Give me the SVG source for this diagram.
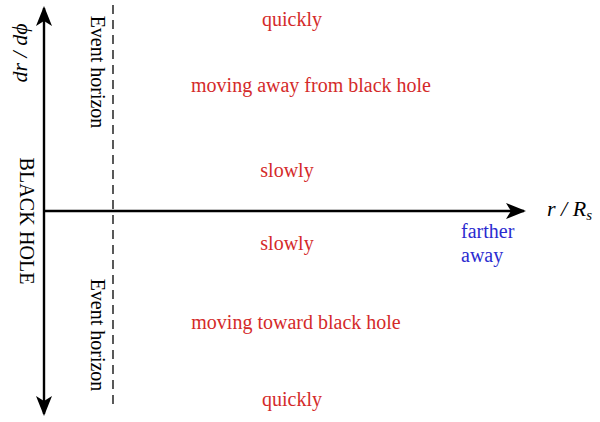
<svg xmlns="http://www.w3.org/2000/svg" width="600" height="422" viewBox="0 0 600 422">
<style>
.ax{stroke:#000;stroke-width:2.4;fill:none}
.eh{stroke:#000;stroke-width:1.3;stroke-dasharray:9 6;fill:none}
.t{font-family:"Liberation Serif","DejaVu Serif",serif;font-size:20px}
.r{fill:#d42a2a;text-anchor:middle}
.b{fill:#2b2bd0}
.k{fill:#000}
.m{font-style:italic;font-size:22px}
</style>
<defs>
<marker id="ah" viewBox="0 0 20 16" refX="18" refY="8" markerWidth="20" markerHeight="16" markerUnits="userSpaceOnUse" orient="auto">
<path d="M0,0 L20,8 L0,16 L5,8 Z" fill="#000"/>
</marker>
</defs>
<rect width="600" height="422" fill="#fff"/>
<g id="connectors">
<line class="ax" x1="44" y1="211" x2="44" y2="8" marker-end="url(#ah)"/>
<line class="ax" x1="44" y1="211" x2="44" y2="414" marker-end="url(#ah)"/>
<line class="ax" x1="43" y1="211" x2="524" y2="211" marker-end="url(#ah)"/>
<line class="eh" x1="113" y1="5" x2="113" y2="408"/>
</g>
<g id="axis-labels">
<text class="t k m" transform="translate(27,53) rotate(-90)" text-anchor="middle">dr / dϕ</text>
<text class="t k m" x="547" y="216">r / R<tspan font-size="15" dy="4">s</tspan></text>
</g>
<g id="black-hole">
<text class="t k" transform="translate(20,221) rotate(90)" text-anchor="middle" textLength="127">BLACK HOLE</text>
</g>
<g id="event-horizon-top">
<text class="t k" transform="translate(91,72) rotate(90)" text-anchor="middle">Event horizon</text>
</g>
<g id="event-horizon-bottom">
<text class="t k" transform="translate(91,335) rotate(90)" text-anchor="middle">Event horizon</text>
</g>
<g id="labels">
<text class="t r" x="292" y="26">quickly</text>
<text class="t r" x="311" y="92">moving away from black hole</text>
<text class="t r" x="287" y="177">slowly</text>
<text class="t r" x="287" y="250">slowly</text>
<text class="t r" x="296" y="329">moving toward black hole</text>
<text class="t r" x="292" y="406">quickly</text>
<text class="t b" x="461" y="238">farther</text>
<text class="t b" x="461" y="262">away</text>
</g>
</svg>
